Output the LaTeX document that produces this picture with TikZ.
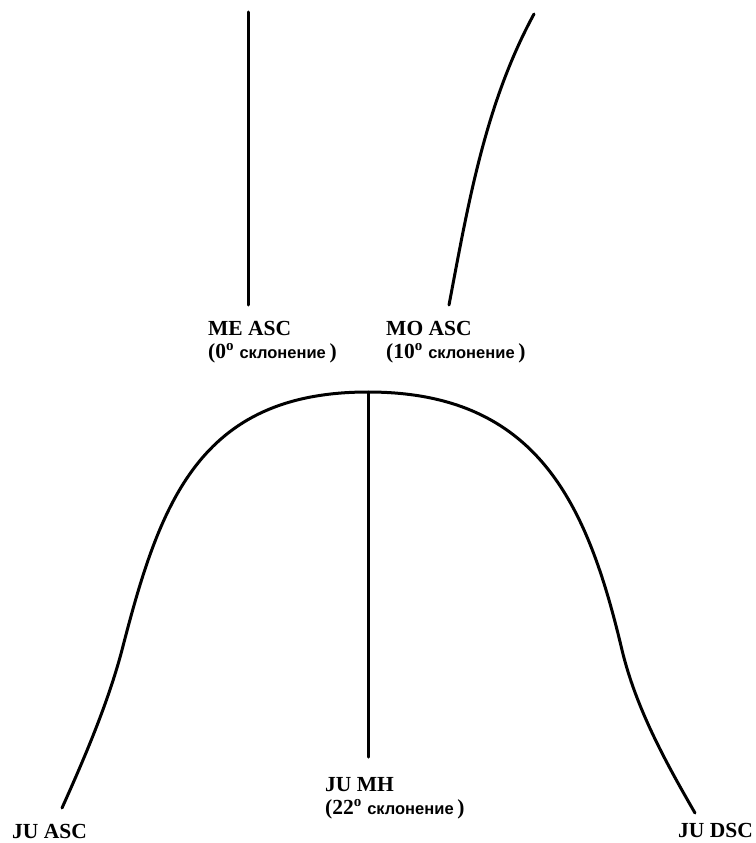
\documentclass[tikz,border=0pt]{standalone}
\usepackage{fontspec}
\setmainfont{Liberation Serif}
\newfontfamily\cyrsans{Liberation Sans}
\newcommand{\sklon}{{\fontsize{16.5}{18}\selectfont\cyrsans\bfseries склонение}}
\tikzset{
  curve/.style={line width=3pt, line cap=round, line join=round},
  lbl/.style={inner sep=0pt, anchor=base west, font=\fontsize{21.5}{22}\selectfont\bfseries},
}
\begin{document}
\begin{tikzpicture}[x=1pt,y=-1pt]
\useasboundingbox[fill=white] (0,0) rectangle (755,843);
% coordinates
\coordinate (meTop) at (248,12);
\coordinate (meBot) at (248,305);
\coordinate (moTop) at (534,14);
\coordinate (moBot) at (449,305);
\coordinate (peak) at (368,392);
\coordinate (mhBot) at (368,757);
\coordinate (ascEnd) at (62,808);
\coordinate (dscEnd) at (695,813);
\coordinate (ls) at (122,650);
\coordinate (rs) at (622,650);
% lines
\draw[curve] (meTop) -- (meBot);
\draw[curve] (moBot) .. controls (468,205) and (485,104) .. (moTop);
\draw[curve] (ascEnd) .. controls (84.5,758) and (108,703) .. (ls)
  .. controls (159.5,504.5) and (198,392) .. (peak)
  .. controls (538,392) and (587.5,504.5) .. (rs)
  .. controls (636,708) and (665,761) .. (dscEnd);
\draw[curve] (peak) -- (mhBot);
% labels
\node[lbl] (me1) at (208,335) {ME ASC};
\node[lbl] (me2) at (208,358) {(0\textsuperscript{o} \sklon\,)};
\node[lbl] (mo1) at (386,335) {MO ASC};
\node[lbl] (mo2) at (386,358) {(10\textsuperscript{o} \sklon\,)};
\node[lbl] (mh1) at (325,791) {JU MH};
\node[lbl] (mh2) at (325,814) {(22\textsuperscript{o} \sklon\,)};
\node[lbl] (asc) at (12,838) {JU ASC};
\node[lbl, anchor=base east] (dsc) at (753,837) {JU DSC};
\end{tikzpicture}
\end{document}
